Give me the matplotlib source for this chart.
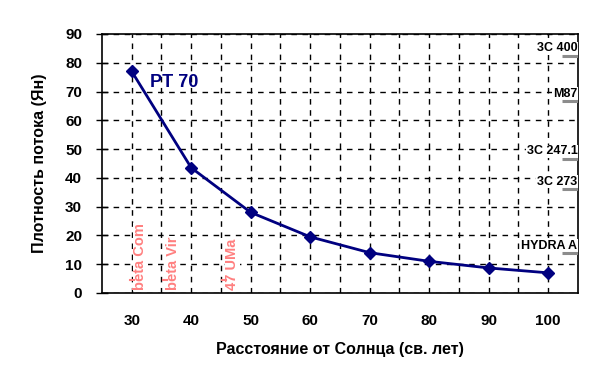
import matplotlib.pyplot as plt
import numpy as np

plt.rcParams['font.family'] = ['Liberation Sans', 'DejaVu Sans']

# основная кривая PT 70
distance = [30, 40, 50, 60, 70, 80, 90, 100]
flux = [77, 43.5, 28, 19.5, 14, 11, 8.7, 7]

# радиоисточники справа (плотность потока, Ян)
src_names = ['3C 400', 'M87', '3C 247.1', '3C 273', 'HYDRA A']
src_flux = [82.4, 66.7, 46.6, 36.1, 13.9]

# звёзды снизу (расстояние, св. лет)
star_names = ['beta Com', 'beta Vir', '47 UMa']
star_dist = [30, 35.5, 45.5]
star_flux = [4.5, 4.5, 4.5]

fig = plt.figure(figsize=(6.01, 3.85), dpi=100)
ax = fig.add_axes([0.1697, 0.239, 0.792, 0.6727])

ax.plot(distance, flux, color='#000080', linewidth=2, marker='D', markersize=6, zorder=5)
ax.text(33.1, 73.3, 'PT 70', color='#000080', fontsize=13, fontweight='bold',
        va='center', ha='left')

# отметки источников у правого края
for name, f in zip(src_names, src_flux):
    ax.plot([102.3, 105], [f, f], color='#8c8c8c', linewidth=2.2, solid_capstyle='butt', zorder=4)
    ax.text(104.9, f + 0.5, name, fontsize=9, fontweight='bold', ha='right', va='bottom',
            bbox=dict(facecolor='white', edgecolor='none', pad=0.5), zorder=3)

# отметки звёзд
for name, d, f in zip(star_names, star_dist, star_flux):
    ax.plot([d - 0.25, d + 0.35], [f, f], color='#ff8080', linewidth=1.5, zorder=4)
    ax.text(d + 1.4, 1.0, name, color='#ff8080', fontsize=10.5, fontweight='bold', rotation=90,
            ha='center', va='bottom',
            bbox=dict(facecolor='white', edgecolor='none', pad=0.3), zorder=3)

ax.set_xlim(25, 105)
ax.set_ylim(0, 90)
ax.set_xticks(np.arange(30, 101, 10))
ax.set_xticks(np.arange(30, 101, 5), minor=True)
ax.set_yticks(np.arange(0, 91, 10))
ax.set_axisbelow(True)

ax.grid(True, which='both', axis='x', color='black', linestyle=(0, (4, 4)), linewidth=1)
ax.grid(True, which='major', axis='y', color='black', linestyle=(0, (4, 4)), linewidth=1)

ax.tick_params(axis='x', which='both', length=0, pad=15, labelsize=11)
ax.tick_params(axis='y', direction='inout', length=8.6, width=1, pad=10, labelsize=11)
for lab in ax.get_xticklabels() + ax.get_yticklabels():
    lab.set_fontweight('bold')

for s in ax.spines.values():
    s.set_linewidth(1.2)

ax.set_xlabel('Расстояние от Солнца (св. лет)', fontsize=11.5, fontweight='bold', labelpad=10)
ax.set_ylabel('Плотность потока (Ян)', fontsize=11.5, fontweight='bold', labelpad=13)

fig.savefig('out.png', dpi=100)
